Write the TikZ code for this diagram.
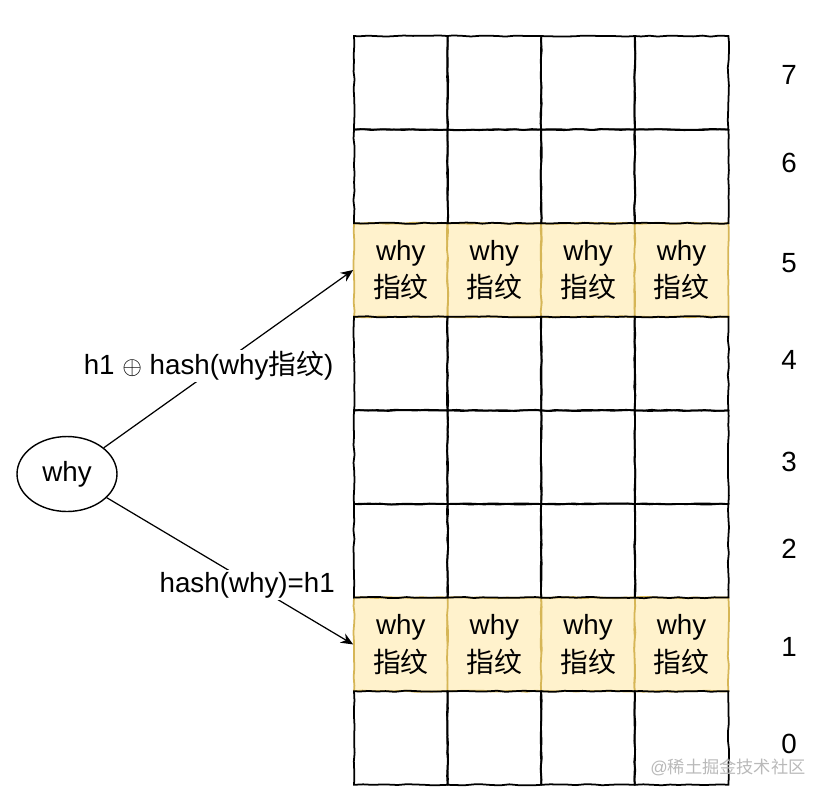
\documentclass[tikz,border=0pt]{standalone}
\usepackage{fontspec}
\setmainfont{Liberation Sans}
\newfontfamily\cjk{Noto Sans CJK SC}
\usetikzlibrary{arrows.meta,shapes.geometric,decorations.pathmorphing}
\definecolor{bfyellow}{HTML}{FFF2CC}
\definecolor{bfgold}{HTML}{D6B656}
\newcommand\bffont{\fontsize{15.8pt}{21.5pt}\selectfont}
\tikzset{bfcell/.style={draw,line width=1pt,minimum width=1.872cm,minimum height=1.872cm,inner sep=0pt,
           decorate,decoration={random steps,segment length=5pt,amplitude=0.35pt}},
         bfhit/.style={bfcell,fill=bfyellow,draw=bfgold,align=center,font=\bffont},
         bfnum/.style={font=\bffont,inner sep=0pt},
         bfkey/.style={ellipse,draw,line width=0.8pt,minimum width=2cm,minimum height=1.5cm,font=\bffont},
         bfarr/.style={line width=0.7pt,-{Stealth[length=7pt,width=6pt]}},
         bflab/.style={fill=white,inner sep=1pt,font=\bffont},
         bfmark/.style={text=gray!55,inner sep=0pt,font=\fontsize{9.8pt}{11pt}\selectfont}}
\begin{document}
\begin{tikzpicture}[x=0.02cm,y=-0.02cm]
    \useasboundingbox (0,0) rectangle (829,796);
    \foreach \r in {5,1}
      \foreach \c in {0,...,3}
        {\node[bfhit] (c\r\c) at ({400.8+93.6*\c},{82.8+93.6*(7-\r)}) {why\\{\cjk 指纹}};}
    \foreach \r in {7,6,4,3,2,0}
      \foreach \c in {0,...,3}
        {\node[bfcell] (c\r\c) at ({400.8+93.6*\c},{82.8+93.6*(7-\r)}) {};}
    \foreach \r/\y in {7/75,6/163,5/263,4/360,3/462,2/549,1/647,0/744}
      {\node[bfnum] (n\r) at (789,\y) {\r};}
    \node[bfkey] (key) at (67,474) {why};
    \draw[bfarr] (key) -- node[bflab,pos=0.42,yshift=4pt] {h1 $\oplus$ hash(why{\cjk 指纹})} (c50.west);
    \draw[bfarr] (key) -- node[bflab,pos=0.57,yshift=-2pt] {hash(why)=h1} (c10.west);
    \node[bfmark] (mark) at (728,767) {@{\cjk 稀土掘金技术社区}};
  \end{tikzpicture}
\end{document}
